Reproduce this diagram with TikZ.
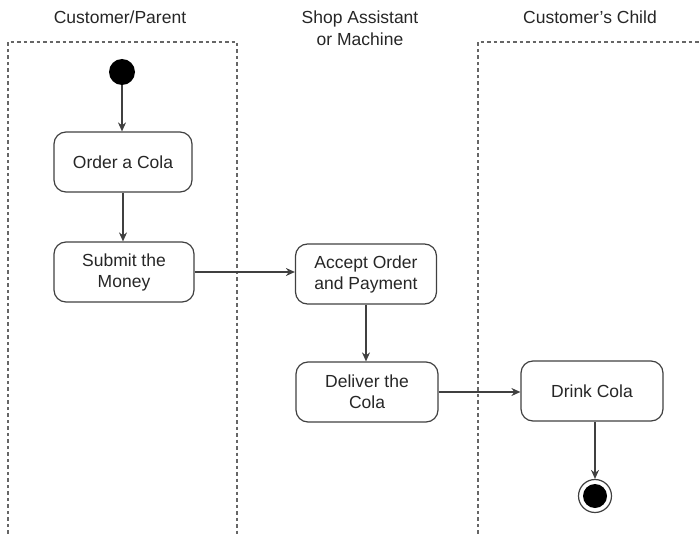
\documentclass[tikz,border=0pt]{standalone}
\usepackage{fontspec}
\setmainfont{Liberation Sans}
\usetikzlibrary{arrows.meta}
\begin{document}
\begin{tikzpicture}[x=1pt,y=-1pt,
  lane/.style={draw=black!60, line width=1.1pt, dash pattern=on 3.5pt off 3pt},
  action/.style={draw=black!75, line width=1.2pt, rounded corners=12pt,
    minimum width=140pt, minimum height=60pt, align=center,
    font=\fontsize{17.5}{21}\selectfont, text=black!85},
  header/.style={align=center, font=\fontsize{17.5}{22}\selectfont, text=black!85},
  flow/.style={draw=black!75, line width=1.2pt, -{Stealth[length=9pt,width=8pt]}}]
\useasboundingbox (0,0) rectangle (699,535);
% swimlane borders
\draw[lane] (8,540) -- (8,42) -- (237,42) -- (237,540);
\draw[lane] (478,540) -- (478,42) -- (705,42);
% lane headers
\node[header] (h1) at (120,17) {Customer/Parent};
\node[header] (h2) at (360,28) {Shop Assistant\\or Machine};
\node[header] (h3) at (590,17) {Customer's Child};
% start and end points
\node[circle, fill=black, minimum size=26pt, inner sep=0pt] (start) at (122,72) {};
\node[circle, draw=black!75, line width=1.2pt, minimum size=33pt, inner sep=0pt] (stop) at (595,496) {};
\node[circle, fill=black, minimum size=24pt, inner sep=0pt] (stopdot) at (595,496) {};
% actions
\node[action, minimum width=138pt] (order) at (123,162) {Order a Cola};
\node[action] (submit) at (124,272) {Submit the\\Money};
\node[action, minimum width=141pt] (accept) at (366,274) {Accept Order\\and Payment};
\node[action, minimum width=142pt] (deliver) at (367,392) {Deliver the\\Cola};
\node[action, minimum width=142pt] (drink) at (592,391) {Drink Cola};
% control flow
\draw[flow] (start) -- (order.north -| start);
\draw[flow] (order) -- (submit.north -| order);
\draw[flow] (submit.east) -- (accept.west |- submit.east);
\draw[flow] (accept) -- (deliver.north -| accept);
\draw[flow] (deliver.east) -- (drink.west |- deliver.east);
\draw[flow] (drink.south -| stop) -- (stop);
\end{tikzpicture}
\end{document}
